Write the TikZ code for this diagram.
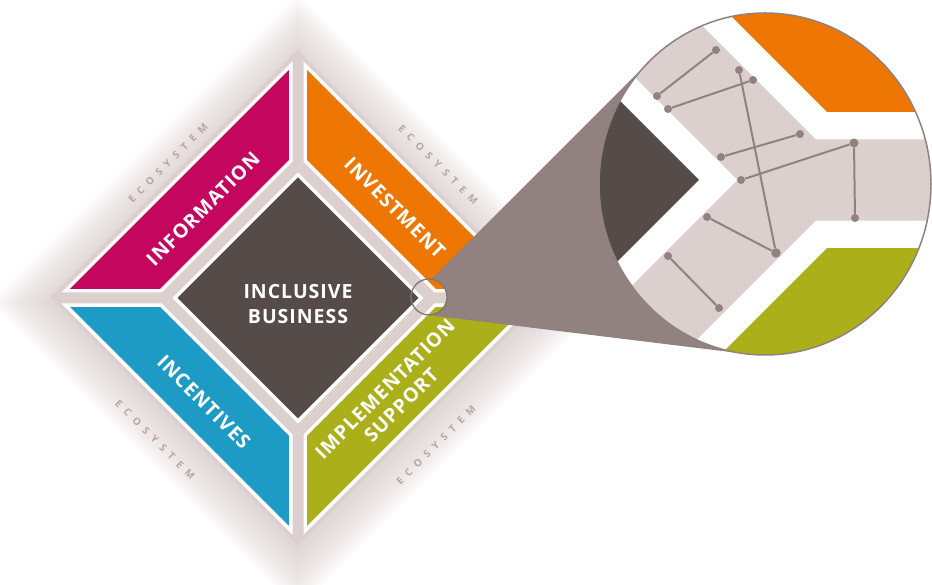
\documentclass[tikz,border=0pt]{standalone}
\usepackage{fontspec}
\setmainfont{Open Sans}
\newfontfamily\tagfont[LetterSpace=5]{Open Sans}
\newfontfamily\ecofont[LetterSpace=62]{Open Sans}
\usetikzlibrary{positioning}

\definecolor{bandgrey}{HTML}{DCD0CF}
\definecolor{coregrey}{HTML}{554C49}
\definecolor{infopink}{HTML}{C5065F}
\definecolor{investorange}{HTML}{EE7602}
\definecolor{incentblue}{HTML}{1E9BC4}
\definecolor{supportgreen}{HTML}{ABAF19}
\definecolor{lensgrey}{HTML}{918280}
\definecolor{shadetone}{HTML}{CDBCBB}
\definecolor{ecotext}{HTML}{B9A4A3}

% the diamond itself, drawn round (0,0)
\newcommand\diamondbody{%
	\fill[bandgrey] (0,248) -- (248,0) -- (0,-248) -- (-248,0) -- cycle;
	\foreach \sx/\sy/\qcol in {-1/1/infopink,1/1/investorange,-1/-1/incentblue,1/-1/supportgreen}{
		\fill[white] (\sx*5.5,\sy*136.3) -- (\sx*5.5,\sy*236.7) -- (\sx*236.7,\sy*5.5) -- (\sx*136.3,\sy*5.5) -- cycle;
		\fill[\qcol] (\sx*9.2,\sy*137.8) -- (\sx*9.2,\sy*227.8) -- (\sx*227.8,\sy*9.2) -- (\sx*137.8,\sy*9.2) -- cycle;
	}
	\fill[white] (0,125.7) -- (125.7,0) -- (0,-125.7) -- (-125.7,0) -- cycle;
	\fill[coregrey] (0,120.5) -- (120.5,0) -- (0,-120.5) -- (-120.5,0) -- cycle;
}

\begin{document}
\begin{tikzpicture}[x=1pt,y=1pt,
				quadlabel/.style={text=white,font=\tagfont\bfseries\fontsize{19.5}{25}\selectfont,align=center,inner sep=0pt},
				ecolabel/.style={text=ecotext,font=\ecofont\bfseries\fontsize{10}{12}\selectfont,inner sep=0pt},
				netdot/.style={circle,fill=lensgrey,inner sep=0pt,minimum size=8pt},
				netline/.style={draw=lensgrey,line width=2pt}]
				\useasboundingbox (0,0) rectangle (932,585);
				\coordinate (D) at (298,287);
				\coordinate (S) at (429,288);
				\coordinate (B) at (765,401);
				% soft shadow round the diamond
				\foreach \r in {248,251,...,308}
					\fill[shadetone,opacity=0.045,shift={(298,283)}] (0,\r) -- (\r,0) -- (0,-\r) -- (-\r,0) -- cycle;
				\begin{scope}[shift={(D)}]
					\diamondbody
				\end{scope}
				
				\node[quadlabel] (core) at (298,281) {INCLUSIVE\\BUSINESS};
				\node[quadlabel,rotate=45] (info) at (203,376) {INFORMATION};
				\node[quadlabel,rotate=-45] (invest) at (395,377) {INVESTMENT};
				\node[quadlabel,rotate=-45] (incent) at (204,183) {INCENTIVES};
				\node[quadlabel,rotate=45,font=\tagfont\bfseries\fontsize{19.5}{23}\selectfont] (impl) at (393,188) {IMPLEMENTATION\\SUPPORT};
				
				\node[ecolabel,rotate=45] (ecoNW) at (168,422) {ECOSYSTEM};
				\node[ecolabel,rotate=-45] (ecoNE) at (438,420) {ECOSYSTEM};
				\node[ecolabel,rotate=-45] (ecoSW) at (155,145) {ECOSYSTEM};
				\node[ecolabel,rotate=45] (ecoSE) at (436,140) {ECOSYSTEM};
				
				% magnifier
				\coordinate (lensTop) at (649.7,524);
				\coordinate (lensBot) at (747.6,230.9);
				\fill[lensgrey] ([shift={(82:18)}]S) -- (lensTop) -- (B) -- (lensBot) -- ([shift={(-96:18)}]S)
					arc[start angle=-96,end angle=82,radius=18] -- cycle;
				\draw[lensgrey!90!black,line width=1.3pt] (S) circle[radius=18];
				\begin{scope}
					\clip (B) ellipse[x radius=166,y radius=171];
					\begin{scope}[shift={(-192.7,405)},scale=7.4]
						\diamondbody
					\end{scope}
					\node[netdot] (n1)  at (716,535) {};
					\node[netdot] (n2)  at (657,489) {};
					\node[netdot] (n3)  at (739,515) {};
					\node[netdot] (n4)  at (753,505) {};
					\node[netdot] (n5)  at (668,476) {};
					\node[netdot] (n6)  at (800,451) {};
					\node[netdot] (n7)  at (721,428) {};
					\node[netdot] (n8)  at (741,405) {};
					\node[netdot,minimum size=9pt] (n9)  at (854,442) {};
					\node[netdot] (n10) at (855,367) {};
					\node[netdot] (n11) at (707,368) {};
					\node[netdot,minimum size=9.5pt] (n12) at (776,332) {};
					\node[netdot] (n13) at (668,329) {};
					\node[netdot] (n14) at (719,277) {};
					\draw[netline] (n1) -- (n2) (n4) -- (n5) (n3) -- (n12) (n6) -- (n7)
						(n8) -- (n9) (n9) -- (n10) (n11) -- (n12) (n13) -- (n14);
				\end{scope}
				\draw[lensgrey,line width=1.5pt] (B) ellipse[x radius=166,y radius=171];
			\end{tikzpicture}
\end{document}
